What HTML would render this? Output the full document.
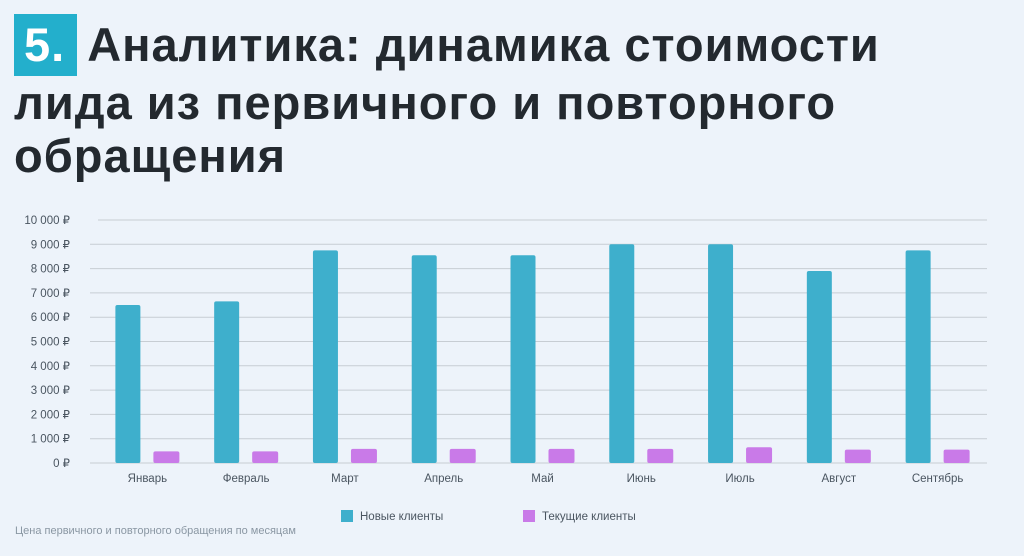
<!DOCTYPE html>
<html><head><meta charset="utf-8"><style>
body{margin:0;width:1024px;height:556px;background:#edf3fa;font-family:"Liberation Sans","DejaVu Sans",sans-serif;overflow:hidden;position:relative}
#title{position:absolute;left:14px;top:14px;font-size:47px;font-weight:bold;color:#23292f;line-height:53px;letter-spacing:1px}
#num{background:#23afcc;color:#fff;padding:0 12px 0 10px;margin-right:10px;display:inline-block;height:62px;line-height:62px}
#note{position:absolute;left:15px;top:525px;font-size:11px;color:#8a97a3}
</style></head><body>
<div id="title"><span id="num">5.</span>Аналитика: динамика стоимости<br>лида из первичного и повторного<br>обращения</div>
<svg id="chart" width="1024" height="556" style="position:absolute;left:0;top:0"></svg>
<div id="note">Цена первичного и повторного обращения по месяцам</div>
<script>
const categories=["Январь","Февраль","Март","Апрель","Май","Июнь","Июль","Август","Сентябрь"];
const newClients=[6500,6650,8750,8550,8550,9000,9000,7900,8750];
const currentClients=[480,480,580,580,580,580,650,550,550];
const yTicks=[0,1000,2000,3000,4000,5000,6000,7000,8000,9000,10000];
const yTickLabels=["0 ₽","1 000 ₽","2 000 ₽","3 000 ₽","4 000 ₽","5 000 ₽","6 000 ₽","7 000 ₽","8 000 ₽","9 000 ₽","10 000 ₽"];
const seriesNames=["Новые клиенты","Текущие клиенты"];
const NS="http://www.w3.org/2000/svg",svg=document.getElementById('chart');
const x0=98,x1=987,y0=463,y1=220,yMax=10000;
const y=v=>y0-(v/yMax)*(y0-y1);
const band=(x1-x0)/categories.length;
const cx=i=>x0+band*(i+0.5);
function mk(t,a){const e=document.createElementNS(NS,t);for(const k in a)e.setAttribute(k,a[k]);svg.appendChild(e);return e;}
yTicks.forEach((v,i)=>{
 const l=mk('line',{x1:(v===10000?98:90),x2:x1,y1:y(v),y2:y(v),stroke:'#c7cdd3','stroke-width':1});
 
 
 const t=mk('text',{x:70,y:y(v)+4,'text-anchor':'end','font-size':11.5,fill:'#4a5560'});
 t.textContent=yTickLabels[i];
 
 
});
categories.forEach((c,i)=>{
 const b=mk('rect',{x:cx(i)-32,y:y(newClients[i]),width:25,height:y0-y(newClients[i]),rx:2,fill:'#3eafcc'});
 
 
 const p=mk('rect',{x:cx(i)+6,y:y(currentClients[i]),width:26,height:y0-y(currentClients[i]),rx:2,fill:'#c97ae8'});
 
 
 const t=mk('text',{x:cx(i),y:482,'text-anchor':'middle','font-size':11.5,fill:'#4a5560'});
 t.textContent=c;
 
 
});
[[341,'#3eafcc'],[523,'#c97ae8']].forEach((d,i)=>{
 const r=mk('rect',{x:d[0],y:510,width:12,height:12,fill:d[1]});
 
 
 const t=mk('text',{x:d[0]+19,y:520,'font-size':11.5,fill:'#4a5560'});
 t.textContent=seriesNames[i];
 
 
});
</script>
</body></html>
